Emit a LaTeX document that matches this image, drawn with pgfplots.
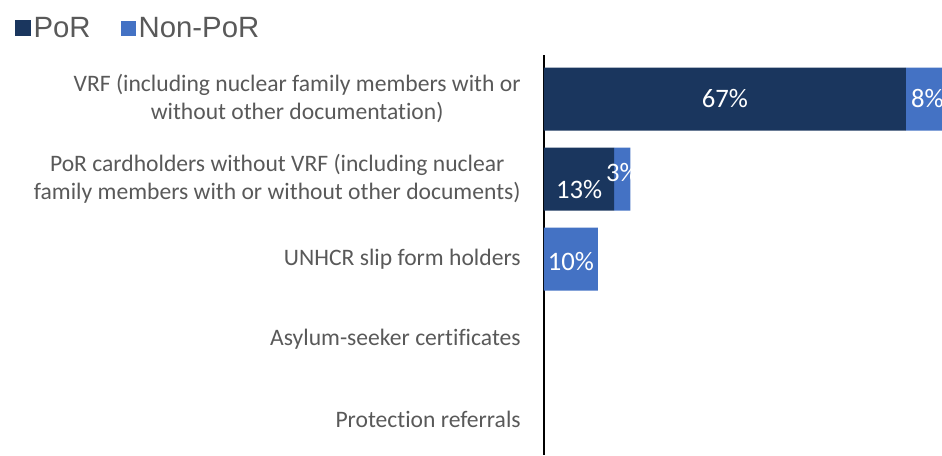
\documentclass[border=0pt]{standalone}
\usepackage{pgfplots}
\pgfplotsset{compat=1.18}
\usepackage{fontspec}
\setmainfont{Carlito}[Ligatures={NoCommon}]
\newfontfamily\legfont{Liberation Sans}
\definecolor{por}{HTML}{1A365E}
\definecolor{nonpor}{HTML}{4472C4}
\definecolor{txt}{HTML}{595959}
\begin{document}
\begin{tikzpicture}
\begin{axis}[
  xbar stacked,
  y dir=reverse,
  x=4.05pt, y=60pt,
  xmin=0, xmax=73.7, ymin=-0.55, ymax=4.45,
  bar width=47.25pt,
  axis x line=none,
  axis y line*=left,
  axis line style={black, line width=0.8pt},
  ytick={0,1,2,3,4},
  yticklabels={{VRF (including nuclear family members with or\\without other documentation)},
               {PoR cardholders without VRF (including nuclear\\family members with or without other documents)},
               {UNHCR slip form holders},
               {Asylum-seeker certificates},
               {Protection referrals}},
  major tick length=0pt,
  yticklabel style={align=center, text=txt, font=\fontsize{17.7}{21}\selectfont, xshift=-14pt},
  legend style={at={(axis description cs:0,1)}, anchor=west, xshift=-397pt, yshift=20.25pt,
    draw=none, fill=none, inner sep=0pt, text=txt,
    font=\legfont\fontsize{22}{24}\selectfont,
    /tikz/every even column/.append style={column sep=21pt}},
  legend columns=2,
]
\addplot[fill=por, draw=none, legend image code/.code={\fill[por] (-3pt,-6pt) rectangle (9pt,6pt);}]
  coordinates {(67,0) (13,1) (0,2) (0,3) (0,4)};
\addplot[fill=nonpor, draw=none, legend image code/.code={\fill[nonpor] (-3pt,-6pt) rectangle (8pt,5pt);}]
  coordinates {(8,0) (3,1) (10,2) (0,3) (0,4)};
\legend{PoR, Non-PoR}
\coordinate (tl) at (axis description cs:0,1);
\coordinate (l1) at (axis cs:33.5,0);
\coordinate (l2) at (axis cs:71,0);
\coordinate (l3) at (axis cs:6.5,1.13);
\coordinate (l4) at (axis cs:14.5,0.92);
\coordinate (l5) at (axis cs:5,2.03);
\end{axis}
\begin{scope}[every node/.style={text=white, font=\fontsize{20}{22}\selectfont}]
\node at (l1) {67\%};
\node at (l2) {8\%};
\node at (l3) {13\%};
\node at (l4) {3\%};
\node at (l5) {10\%};
\end{scope}
\pgfresetboundingbox
\path[use as bounding box] (tl) ++(-408pt,41.25pt) rectangle ++(706.5pt,-341.25pt);
\end{tikzpicture}
\end{document}
